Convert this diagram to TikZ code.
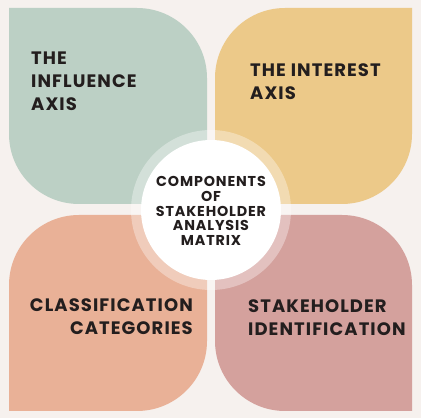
\documentclass[tikz,border=0pt]{standalone}
\usepackage{fontspec}
\setmainfont{Poppins}[LetterSpace=6]
\definecolor{bgc}{RGB}{246,241,238}
\definecolor{greenc}{RGB}{188,208,197}
\definecolor{yellowc}{RGB}{236,201,137}
\definecolor{orangec}{RGB}{233,177,151}
\definecolor{pinkc}{RGB}{212,161,157}
\definecolor{txt}{RGB}{35,30,30}
\tikzset{
  big/.style={font=\bfseries\fontsize{18}{23}\selectfont, text=txt, inner sep=0pt},
  small/.style={font=\bfseries\fontsize{14.3}{14.8}\selectfont, text=txt, inner sep=0pt, align=center},
}
\begin{document}
\begin{tikzpicture}[x=1pt,y=1pt]
\useasboundingbox (0,0) rectangle (421,418);
\fill[bgc] (0,0) rectangle (421,418);
% green
\fill[greenc] (9,410) -- (137,410) arc[start angle=90,end angle=0,radius=70] -- (207,214) -- (79,214) arc[start angle=270,end angle=180,radius=70] -- cycle;
% yellow
\fill[yellowc] (215,340) arc[start angle=180,end angle=90,radius=70] -- (412,410) -- (412,284) arc[start angle=0,end angle=-90,radius=70] -- (215,214) -- cycle;
% orange
\fill[orangec] (9,133) arc[start angle=180,end angle=90,radius=70] -- (207,203) -- (207,77) arc[start angle=0,end angle=-90,radius=70] -- (9,7) -- cycle;
% pink
\fill[pinkc] (215,203) -- (342,203) arc[start angle=90,end angle=0,radius=70] -- (412,7) -- (285,7) arc[start angle=270,end angle=180,radius=70] -- cycle;
% centre
\fill[white,opacity=0.35] (211,208) circle[radius=80];
\node[circle, fill=white, minimum size=140pt, inner sep=0pt] (c) at (211,208) {};
\node[small] (ct) at (211,207) {COMPONENTS\\OF\\STAKEHOLDER\\ANALYSIS\\MATRIX};
\node[big, align=left, anchor=base west] (t1) at (31,307) {THE\\INFLUENCE\\AXIS};
\node[big, align=left, anchor=base west] (t2) at (250,318) {THE INTEREST\\AXIS};
\node[big, align=right, anchor=base east] (t3) at (193,83) {CLASSIFICATION\\CATEGORIES};
\node[big, align=left, anchor=base west] (t4) at (248,82) {STAKEHOLDER\\IDENTIFICATION};
\end{tikzpicture}
\end{document}
